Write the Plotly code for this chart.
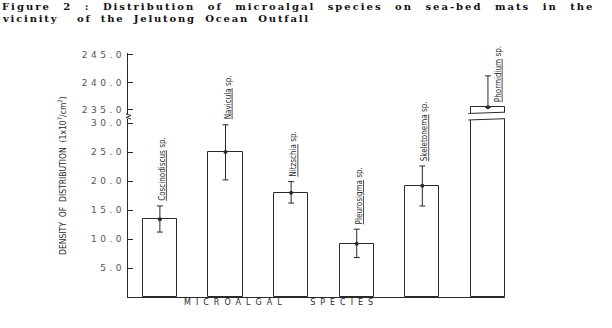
import plotly.graph_objects as go

# ---- data ----
species = ["Coscinodiscus", "Navicula", "Nitzschia", "Pleurosigma", "Skeletonema", "Phormidium"]
density = [13.4, 25.0, 18.0, 9.2, 19.2, 235.5]
err_plus = [2.3, 4.7, 1.9, 2.5, 3.4, 5.7]
err_minus = [2.2, 4.8, 1.8, 2.4, 3.5, 0.0]
lower_ticks = [5, 10, 15, 20, 25, 30]
upper_ticks = [235, 240, 245]

# ---- geometry (pixels) ----
FW, FH = 612, 328
L, R, T, B = 128, 107, 53, 31
PW, PH = FW - L - R, FH - T - B

def px(x):
    return (x - L) / PW

def py(y):
    return (FH - B - y) / PH

LOW_TOP, UP_BOT = 119, 114
low_dom = [0, py(LOW_TOP)]
up_dom = [py(UP_BOT), 1]
LOW_RANGE = [0, 30.7]
UP_RANGE = [234.27, 245.36]
BAR_W = 0.52

INK = "#2a2a2a"
NARROW = "Liberation Sans Narrow, DejaVu Sans Condensed, Arial Narrow, sans-serif"
xs = list(range(len(species)))

def spaced(t, ls, ws=None):
    st = f"letter-spacing:{ls}px"
    if ws is not None:
        st += f";word-spacing:{ws}px"
    return f'<span style="{st}">{t}</span>'

# values shown in the lower (broken) panel: bars taller than the panel are cut at its top
lower_vals = [min(v, LOW_RANGE[1] + 1) for v in density]

fig = go.Figure()
for ya, vals in [("y", lower_vals), ("y2", density)]:
    fig.add_trace(go.Bar(x=xs, y=vals, yaxis=ya, width=BAR_W,
                         marker=dict(color="white", line=dict(color=INK, width=1)),
                         showlegend=False, hoverinfo="skip"))
    fig.add_trace(go.Scatter(x=xs, y=density, yaxis=ya, mode="markers",
                             marker=dict(color=INK, size=4),
                             error_y=dict(type="data", symmetric=False, array=err_plus,
                                          arrayminus=err_minus, color=INK, thickness=1, width=3),
                             showlegend=False, hoverinfo="skip"))

tickfont = dict(family="DejaVu Sans", size=9, color="#555")
fig.update_layout(
    width=FW, height=FH, margin=dict(l=L, r=R, t=T, b=B),
    paper_bgcolor="white", plot_bgcolor="white", bargap=0,
    xaxis=dict(range=[-0.486, len(species) - 1 + BAR_W / 2], showgrid=False, zeroline=False,
               showticklabels=False, ticks="", showline=True, linecolor=INK, linewidth=1.2,
               anchor="y"),
    yaxis=dict(domain=low_dom, range=LOW_RANGE, showgrid=False, zeroline=False,
               tickvals=lower_ticks, ticktext=[spaced(f"{v:.1f}", 3.5) for v in lower_ticks],
               ticks="inside", ticklen=5, tickcolor=INK, tickfont=tickfont,
               showline=True, linecolor=INK, linewidth=1.2),
    yaxis2=dict(domain=up_dom, range=UP_RANGE, showgrid=False, zeroline=False, anchor="x",
                tickvals=upper_ticks, ticktext=[spaced(f"{v:.1f}", 3.5) for v in upper_ticks],
                ticks="inside", ticklen=5, tickcolor=INK, tickfont=tickfont,
                showline=True, linecolor=INK, linewidth=1.2),
)

ann = []
# species labels (rotated)
for i, (s, v, e) in enumerate(zip(species, density, err_plus)):
    txt = f"<u>{s}</u> sp."
    if i == len(species) - 1:
        ann.append(dict(x=i, y=v, xref="x", yref="y2", text=txt, textangle=-90,
                        xanchor="center", yanchor="bottom", xshift=10, yshift=3,
                        showarrow=False, font=dict(family=NARROW, size=8, color=INK)))
    else:
        ann.append(dict(x=i, y=v + e, xref="x", yref="y", text=txt, textangle=-90,
                        xanchor="center", yanchor="bottom", xshift=3, yshift=3,
                        showarrow=False, font=dict(family=NARROW, size=8, color=INK)))

# title lines
ann.append(dict(x=px(0), y=py(7), xref="paper", yref="paper", xanchor="left", yanchor="middle",
                text=spaced("Figure 2 : Distribution of microalgal species on sea-bed mats in the", 2, 7),
                showarrow=False, font=dict(family="DejaVu Serif", size=10, color="#111", weight="bold")))
ann.append(dict(x=px(0), y=py(18), xref="paper", yref="paper", xanchor="left", yanchor="middle",
                text=spaced("vicinity &nbsp;of the Jelutong Ocean Outfall", 1.8, 4),
                showarrow=False, font=dict(family="DejaVu Serif", size=10, color="#111", weight="bold")))
# axis titles
ann.append(dict(x=px(62), y=py(176), xref="paper", yref="paper", xanchor="center", yanchor="middle",
                text="DENSITY &nbsp;OF &nbsp;DISTRIBUTION &nbsp;(1x10<sup>7</sup>/cm<sup>2</sup>)",
                textangle=-90, showarrow=False, font=dict(family=NARROW, size=8.5, color=INK)))
ann.append(dict(x=px(281), y=py(302), xref="paper", yref="paper", xanchor="center", yanchor="middle",
                text=spaced("MICROALGAL SPECIES", 5, 16),
                showarrow=False, font=dict(family="DejaVu Sans", size=8, color=INK)))
fig.update_layout(annotations=ann)

# axis break marks
shapes = []
shapes.append(dict(type="path", xref="paper", yref="paper",
                   path=f"M {px(126)} {py(UP_BOT)} L {px(131)} {py(UP_BOT+1.5)} L {px(126)} {py(LOW_TOP-1.5)} L {px(131)} {py(LOW_TOP)}",
                   line=dict(color=INK, width=1)))
# bar break on last bar
x5 = len(species) - 1
bx0, bx1 = x5 - 0.3, x5 + 0.34
shapes.append(dict(type="path", xref="x", yref="paper",
                   path=f"M {bx0} {py(LOW_TOP+1)} L {bx1} {py(LOW_TOP-0.5)} L {bx1} {py(UP_BOT-2)} L {bx0} {py(UP_BOT-0.5)} Z",
                   fillcolor="white", line=dict(width=0), layer="above"))
shapes.append(dict(type="line", xref="x", yref="paper", x0=bx0, x1=bx1,
                   y0=py(LOW_TOP+1), y1=py(LOW_TOP-0.5), line=dict(color=INK, width=1)))
shapes.append(dict(type="line", xref="x", yref="paper", x0=bx0, x1=bx1,
                   y0=py(UP_BOT-0.5), y1=py(UP_BOT-2), line=dict(color=INK, width=1)))
fig.update_layout(shapes=shapes)

fig.write_html("out.html")
